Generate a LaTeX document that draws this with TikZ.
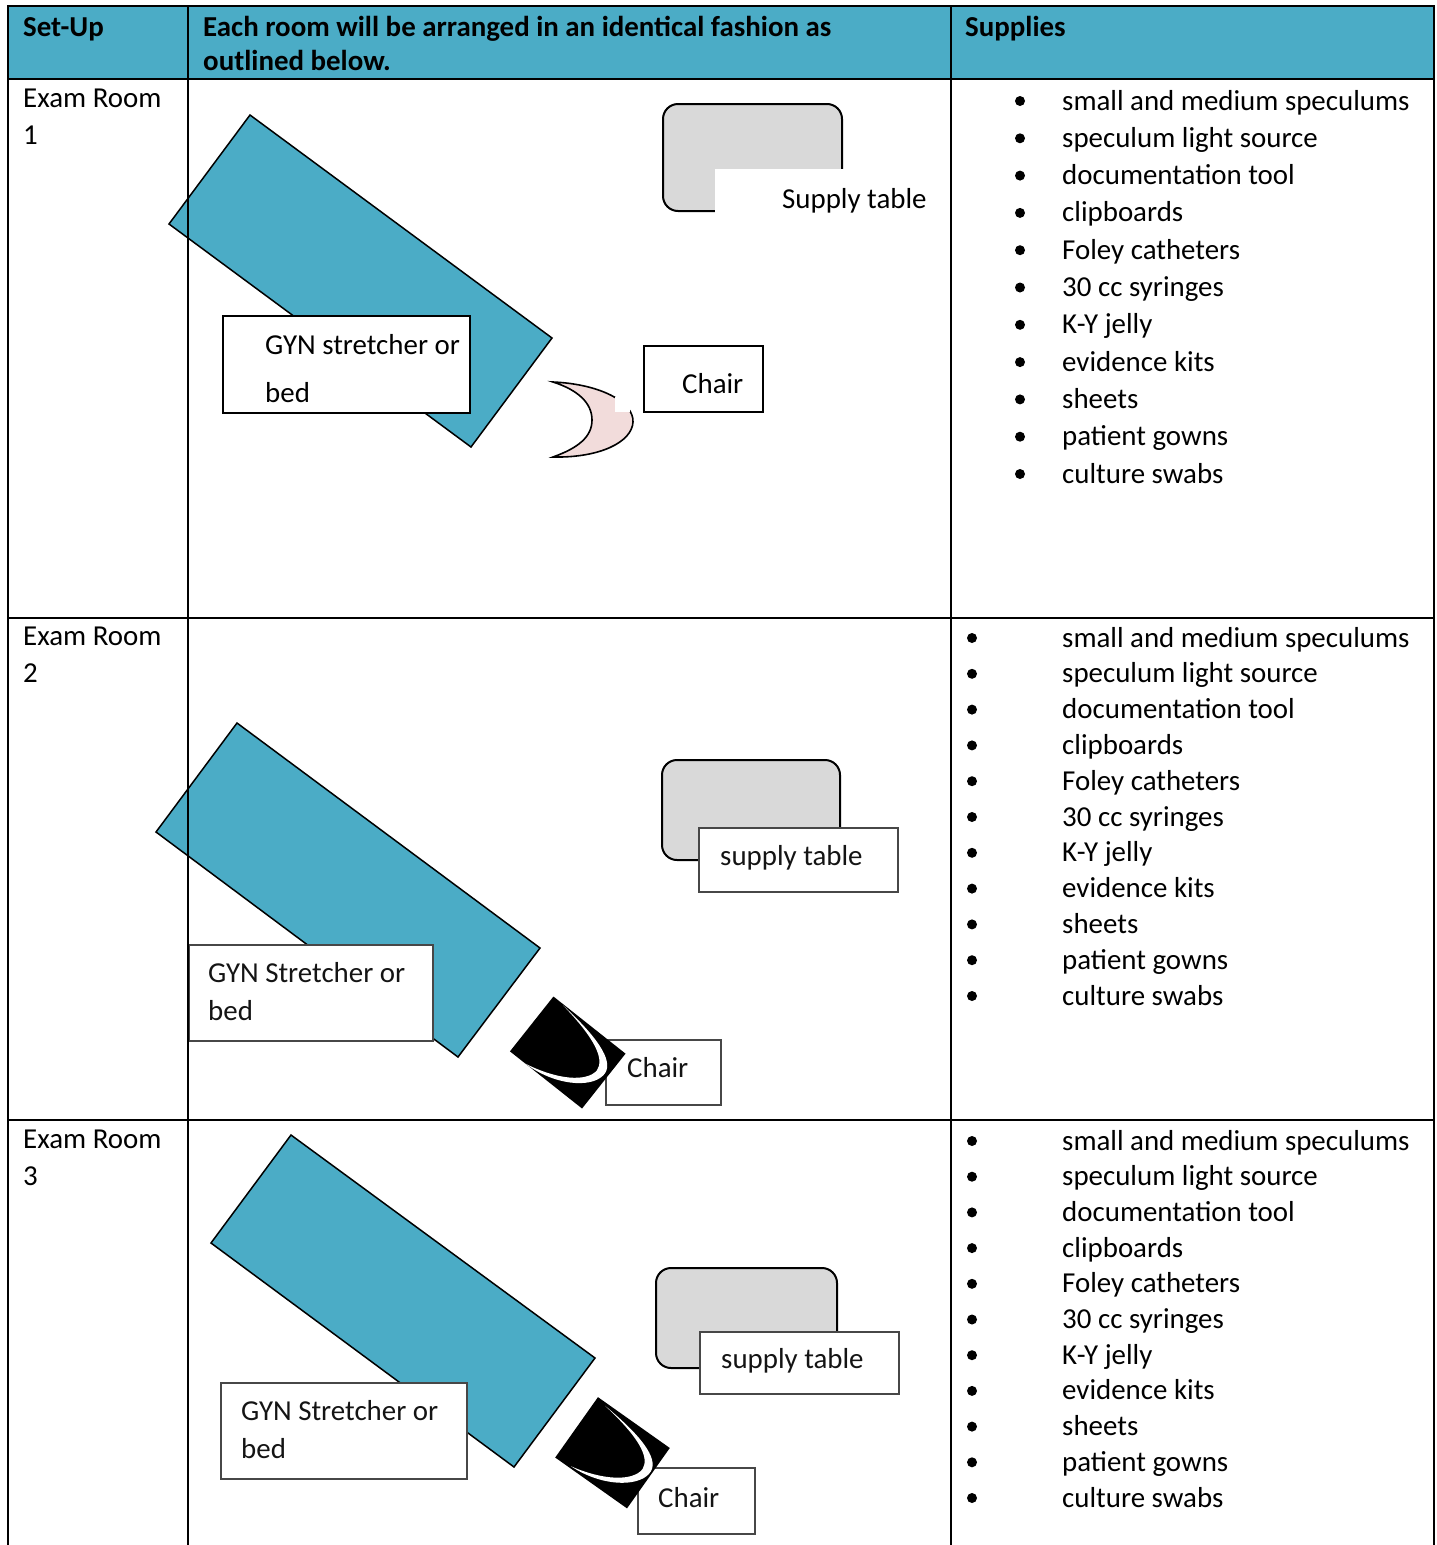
\documentclass[tikz,border=0pt]{standalone}
\usepackage{fontspec}
\setmainfont{Carlito}
\definecolor{tealA}{HTML}{4BACC6}
\definecolor{tblgray}{HTML}{D9D9D9}
\definecolor{pinkC}{HTML}{F2DCDB}
\newcommand\fsz{\fontsize{28.9}{34}\selectfont}
\newcommand\blackchair[5]{%
\begin{scope}[shift={(#1,#2)}, rotate=#3]
\fill[black] (-#4/2,-#5/2) rectangle (#4/2,#5/2);
\fill[white] (-33,-34) .. controls (20,-30) and (44,-20) .. (42,-4)
  .. controls (40,14) and (10,34) .. (-26,35)
  .. controls (8,28) and (33,12) .. (34,-4)
  .. controls (33,-18) and (12,-28) .. cycle;
\end{scope}}
\begin{document}
\begin{tikzpicture}[x=1pt,y=-1pt,
  tx/.style={font=\fsz, anchor=base west, inner sep=0pt},
  hd/.style={font=\fsz\bfseries, anchor=base west, inner sep=0pt},
  lbl/.style={font=\fsz, anchor=base west, inner sep=0pt, text=black!92},
  bedshape/.style={fill=tealA, draw=black, line width=1.5},
  gbox/.style={fill=white, draw=black, line width=1.6},
  gboxb/.style={fill=white, draw=black!72, line width=2.6},
  tbl/.style={fill=tblgray, draw=black, line width=2, rounded corners=15},
  grid/.style={draw=black, line width=2}]
\useasboundingbox (0,0) rectangle (1436,1545);
\fill[white] (0,0) rectangle (1436,1545);
% header
\fill[tealA] (8,6) rectangle (1434,79);
\node[hd] (h1) at (23,36) {Set-Up};
\node[hd] (h2) at (203,36) {Each room will be arranged in an identical fashion as};
\node[hd] (h3) at (203,70) {outlined below.};
\node[hd] (h4) at (965,36) {Supplies};
% left column
\node[tx] (r1a) at (23,107) {Exam Room};
\node[tx] (r1b) at (23,144) {1};
\node[tx] (r2a) at (23,645) {Exam Room};
\node[tx] (r2b) at (23,682) {2};
\node[tx] (r3a) at (23,1148) {Exam Room};
\node[tx] (r3b) at (23,1185) {3};
% supplies
\foreach [count=\k from 0] \s in {small and medium speculums, speculum light source, documentation tool, clipboards, Foley catheters, 30 cc syringes, K-Y jelly, evidence kits, sheets, patient gowns, culture swabs}{
  \node[tx] (sa\k) at (1062,110+37.3*\k) {\s};
  \fill (1020,101+37.3*\k) circle (5);
  \node[tx] (sb\k) at (1062,647+35.8*\k) {\s};
  \fill (972,638+35.8*\k) circle (5);
  \node[tx] (sc\k) at (1062,1150+35.7*\k) {\s};
  \fill (972,1141+35.7*\k) circle (5);
}
% ---- Room 1
\draw[bedshape] (250,115) -- (552,338) -- (471,447) -- (169,224) -- cycle;
\draw[gbox] (223,316) rectangle (470,413);
\node[tx] (g1a) at (265,354) {GYN stretcher or};
\node[tx] (g1b) at (265,402) {bed};
\draw[tbl] (663,104) rectangle (842,211);
\fill[white] (715,169) rectangle (935,216);
\node[tx] (t1) at (782,208) {Supply table};
\draw[fill=pinkC, draw=black, line width=1.6] (553,382) .. controls (600,384) and (634,402) .. (633,422)
  .. controls (632,442) and (600,458) .. (553,457)
  .. controls (578,448) and (592,437) .. (592,420)
  .. controls (592,403) and (578,390) .. cycle;
\fill[white] (615,397) rectangle (630,412);
\draw[gbox] (644,346) rectangle (763,412);
\node[tx] (c1) at (682,393) {Chair};
% ---- Room 2
\draw[bedshape] (237,723) -- (540,948) -- (458,1057) -- (156,832) -- cycle;
\draw[gboxb] (189,945) rectangle (433,1041);
\node[lbl] (g2a) at (208,982) {GYN Stretcher or};
\node[lbl] (g2b) at (208,1020) {bed};
\draw[tbl] (662,760) rectangle (840,860);
\draw[gboxb] (699,828) rectangle (898,892);
\node[lbl] (t2) at (720,865) {supply table};
\draw[gboxb] (606,1040) rectangle (721,1105);
\node[lbl] (c2) at (627,1077) {Chair};
\blackchair{567.75}{1052.5}{-38.4}{92}{70}
% ---- Room 3
\draw[bedshape] (291,1135) -- (595,1358) -- (514,1467) -- (211,1243) -- cycle;
\draw[gboxb] (221,1383) rectangle (467,1479);
\node[lbl] (g3a) at (241,1420) {GYN Stretcher or};
\node[lbl] (g3b) at (241,1458) {bed};
\draw[tbl] (656,1268) rectangle (837,1368);
\draw[gboxb] (700,1332) rectangle (899,1394);
\node[lbl] (t3) at (721,1368) {supply table};
\draw[gboxb] (638,1468) rectangle (755,1534);
\node[lbl] (c3) at (658,1507) {Chair};
\blackchair{612.5}{1452.75}{-35.3}{88}{74}
% grid lines
\draw[grid] (8,1545) -- (8,6) -- (1434,6) -- (1434,1545);
\draw[grid] (8,79) -- (1434,79);
\draw[grid] (8,618) -- (1434,618);
\draw[grid] (8,1120) -- (1434,1120);
\draw[grid] (188,6) -- (188,1545);
\draw[grid] (951,6) -- (951,1545);
\end{tikzpicture}
\end{document}
